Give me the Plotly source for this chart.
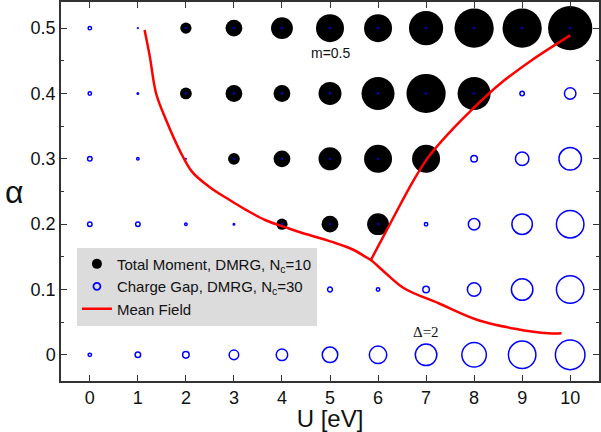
import numpy as np
import plotly.graph_objects as go

# ---- data ----
U_vals = [0, 1, 2, 3, 4, 5, 6, 7, 8, 9, 10]
alpha_vals = [0.0, 0.1, 0.2, 0.3, 0.4, 0.5]

# Total moment (DMRG, Nc=10), rows follow alpha_vals
moment = [
    [0, 0, 0, 0, 0, 0, 0, 0, 0, 0, 0],
    [0, 0, 0, 0, 0, 0, 0, 0, 0, 0, 0],
    [0, 0, 0, 0, 0.20, 0.30, 0.39, 0, 0, 0, 0],
    [0, 0, 0, 0.21, 0.30, 0.41, 0.50, 0.50, 0, 0, 0],
    [0, 0, 0.21, 0.30, 0.30, 0.41, 0.59, 0.70, 0.59, 0, 0],
    [0, 0, 0.20, 0.30, 0.39, 0.50, 0.50, 0.61, 0.70, 0.70, 0.79],
]

# Charge gap (DMRG, Nc=30), rows follow alpha_vals
gap = [
    [0.43, 0.61, 0.70, 0.96, 1.13, 1.48, 1.65, 2.00, 2.26, 2.52, 2.70],
    [0.52, 0.52, 0.50, 0.45, 0.45, 0.55, 0.43, 0.70, 1.30, 2.00, 2.52],
    [0.52, 0.52, 0.35, 0.26, 0.17, 0.17, 0.17, 0.43, 1.13, 1.91, 2.52],
    [0.52, 0.35, 0.17, 0.17, 0.17, 0.17, 0.17, 0.17, 0.70, 1.30, 2.09],
    [0.43, 0.26, 0.17, 0.17, 0.17, 0.17, 0.17, 0.17, 0.17, 0.52, 1.13],
    [0.43, 0.17, 0.17, 0.17, 0.17, 0.17, 0.17, 0.17, 0.17, 0.17, 0.17],
]

# Mean-field phase boundary (two branches)
mf_lower_U = [1.14, 1.25, 1.38, 1.59, 1.87, 2.13, 2.49, 2.91, 3.25, 3.66, 4.08, 4.36,
              5.04, 5.45, 5.74, 5.85, 6.16, 6.54, 7.26, 8.09, 8.85, 9.55, 9.82]
mf_lower_a = [0.497, 0.456, 0.400, 0.359, 0.313, 0.280, 0.257, 0.237, 0.222, 0.206, 0.195, 0.188,
              0.173, 0.162, 0.150, 0.145, 0.125, 0.102, 0.079, 0.053, 0.040, 0.033, 0.033]
mf_upper_U = [5.85, 6.29, 6.74, 7.05, 7.47, 7.95, 8.51, 9.20, 10.0]
mf_upper_a = [0.145, 0.206, 0.267, 0.303, 0.339, 0.375, 0.413, 0.451, 0.489]

MOMENT_SCALE = 56.0   # px diameter per unit moment
GAP_SCALE = 11.5      # px diameter per eV gap
GAP_LW = 1.5

# ---- flatten grid ----
mx, my, ms = [], [], []
gx, gy, gs = [], [], []
for i, a in enumerate(alpha_vals):
    for j, u in enumerate(U_vals):
        if moment[i][j] > 0:
            mx.append(u); my.append(a); ms.append(moment[i][j] * MOMENT_SCALE)
        gx.append(u); gy.append(a)
        gs.append(max(gap[i][j] * GAP_SCALE - GAP_LW, 0.8))

fig = go.Figure()
fig.add_trace(go.Scatter(x=mx, y=my, mode="markers", showlegend=False,
                         marker=dict(size=ms, color="black", opacity=1, line=dict(width=0))))
fig.add_trace(go.Scatter(x=gx, y=gy, mode="markers", showlegend=False,
                         marker=dict(size=gs, color="#0000ff", symbol="circle-open", opacity=1,
                                     line=dict(width=GAP_LW, color="#0000ff"))))
fig.add_trace(go.Scatter(x=mf_lower_U, y=mf_lower_a, mode="lines", showlegend=False,
                         line=dict(color="#ff0000", width=2.5, shape="spline", smoothing=1.0)))
fig.add_trace(go.Scatter(x=mf_upper_U, y=mf_upper_a, mode="lines", showlegend=False,
                         line=dict(color="#ff0000", width=2.5, shape="spline", smoothing=1.0)))

# legend entries
fig.add_trace(go.Scatter(x=[None], y=[None], mode="markers",
                         name="Total Moment, DMRG, N<sub>c</sub>=10",
                         marker=dict(size=10, color="black")))
fig.add_trace(go.Scatter(x=[None], y=[None], mode="markers",
                         name="Charge Gap, DMRG, N<sub>c</sub>=30",
                         marker=dict(size=7, color="#0000ff", symbol="circle-open",
                                     line=dict(width=1.8, color="#0000ff"))))
fig.add_trace(go.Scatter(x=[None], y=[None], mode="lines", name="Mean Field",
                         line=dict(color="#ff0000", width=2.5)))

axis_common = dict(showline=True, linecolor="#333", linewidth=1.5, mirror="allticks",
                   ticks="inside", tickcolor="#333", tickwidth=1.2, showgrid=False,
                   zeroline=False, tickfont=dict(family="Liberation Sans", size=18, color="#111"))

fig.update_layout(
    width=601, height=432,
    margin=dict(l=61, r=0, t=2, b=51),
    plot_bgcolor="white", paper_bgcolor="white",
    font=dict(family="Liberation Sans", color="#111"),
    xaxis=dict(range=[-0.6, 10.6], tickmode="array", tickvals=U_vals,
               ticktext=[str(u) for u in U_vals], ticklen=6,
               title=dict(text="U [eV]", font=dict(size=24), standoff=3),
               **axis_common),
    yaxis=dict(range=[-0.04, 0.54], tickmode="array", tickvals=alpha_vals,
               ticktext=["0", "0.1", "0.2", "0.3", "0.4", "0.5"], ticklen=6,
               ticklabelstandoff=0,
               minor=dict(dtick=0.05, ticks="inside", ticklen=3, tickcolor="#333"),
               **axis_common),
    legend=dict(x=0.0296, y=0.352, xanchor="left", yanchor="top",
                bgcolor="#dcdcdc", font=dict(family="Liberation Sans", size=15, color="#111"),
                tracegroupgap=0, itemwidth=30),
    annotations=[
        dict(x=-0.086, y=0.5, xref="paper", yref="paper", text="α", showarrow=False,
             font=dict(family="Liberation Sans", size=32, color="#111"), xanchor="center", yanchor="middle"),
        dict(x=5.03, y=0.462, text="m=0.5", showarrow=False,
             font=dict(family="Liberation Sans", size=14, color="#111")),
        dict(x=7.0, y=0.035, text="Δ=2", showarrow=False,
             font=dict(family="Liberation Serif", size=15, color="#111")),
    ],
)

fig.write_html("out.html")
